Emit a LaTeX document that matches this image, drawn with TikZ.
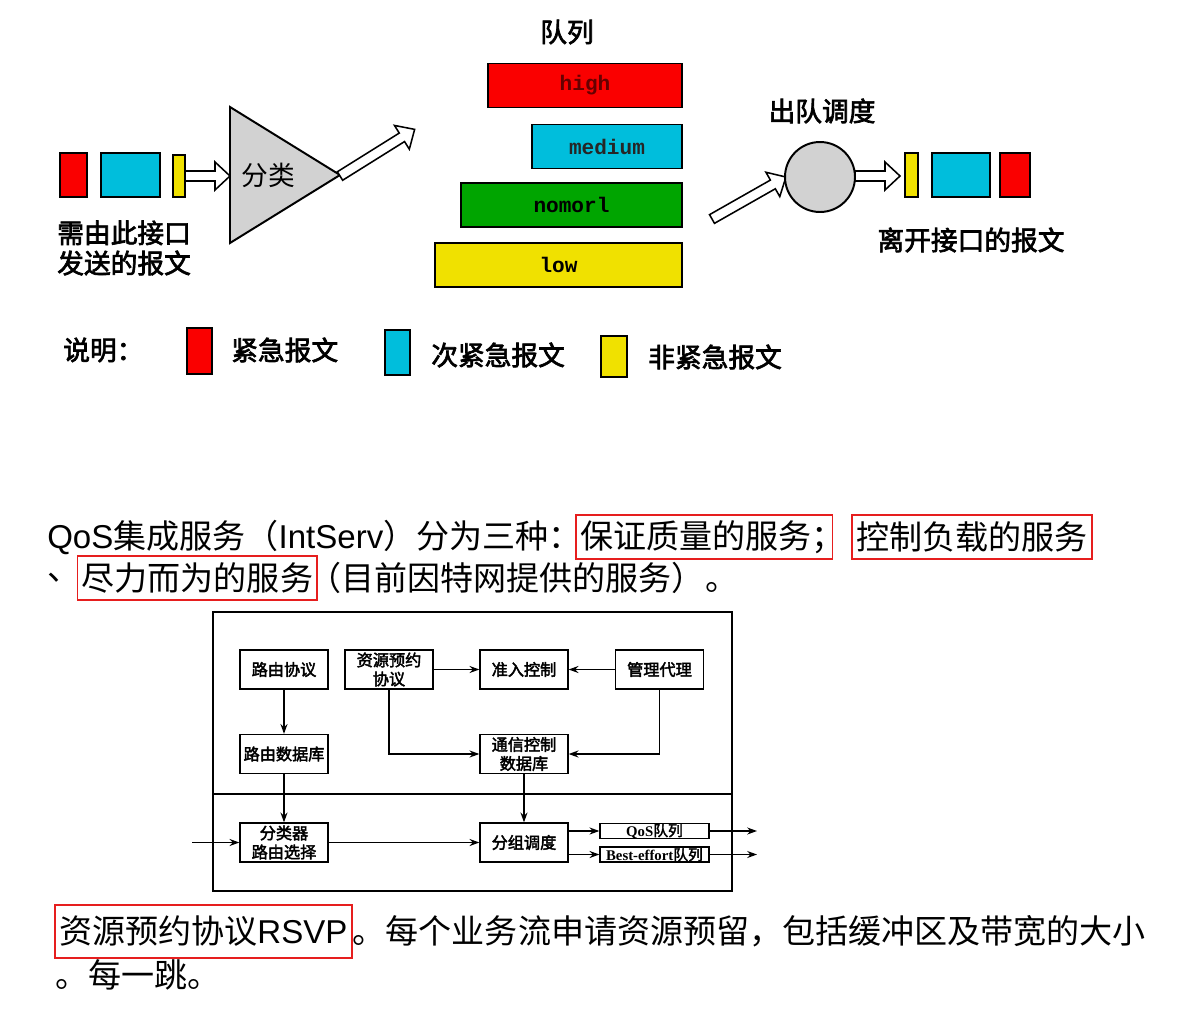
\documentclass[tikz,border=0pt]{standalone}
\usepackage{fontspec}
\setmainfont{Liberation Sans}
\newfontfamily\cjk{Noto Sans CJK SC}[AutoFakeBold=2.5]
\newfontfamily\qmono{Liberation Mono}
\newfontfamily\tnr{Liberation Serif}
\usetikzlibrary{arrows.meta,positioning}
\definecolor{pktred}{RGB}{250,0,0}
\definecolor{pktcyan}{RGB}{0,190,220}
\definecolor{pktyellow}{RGB}{240,225,0}
\definecolor{qgreen}{RGB}{0,165,0}
\definecolor{markred}{RGB}{230,30,30}
\newcommand{\upx}{0.025cm}
% hollow arrow: start, angle, length
\newcommand{\fatarrow}[3]{\draw[fatarr,shift={#1},rotate=#2] (0,-5)--(#3-15,-5)--(#3-15,-14)--(#3,0)--(#3-15,14)--(#3-15,5)--(0,5)--cycle;}

\begin{document}
\begin{tikzpicture}[x=0.025cm, y=-0.025cm,
    pkt/.style={draw=black, line width=1.4pt},
    fatarr/.style={draw=black, fill=white, line width=1.1pt},
    qbar/.style={draw=black, line width=1.4pt, minimum height=44*\upx, inner sep=0pt, font=\qmono\bfseries\fontsize{15}{15}\selectfont},
    lbl/.style={inner sep=0pt, font=\cjk\bfseries\fontsize{19}{21.5}\selectfont},
    blk/.style={draw, line width=0.9pt, minimum width=88*\upx, minimum height=39*\upx, inner sep=0pt, align=center, font=\cjk\bfseries\fontsize{11.5}{13.5}\selectfont},
    qbox/.style={draw, line width=0.9pt, minimum width=109*\upx, minimum height=15*\upx, inner sep=0pt, font=\tnr\bfseries\fontsize{10.5}{11}\selectfont},
    flow/.style={line width=0.9pt, -{Stealth[length=7pt,width=5pt]}},
    txt/.style={inner sep=0pt, font=\cjk\fontsize{23.5}{28}\selectfont},
    redframe/.style={draw=markred, line width=1.3pt, inner xsep=3pt, minimum height=44*\upx}]
  \useasboundingbox (0,0) rectangle (1186,1033);
  \fill[white] (0,0) rectangle (1186,1033);

  % packets in
  \draw[pkt, fill=pktred] (60,153) rectangle (87,197);
  \draw[pkt, fill=pktcyan] (101,153) rectangle (160,197);
  \draw[pkt, fill=pktyellow] (173,155) rectangle (185,197);
  \node[lbl, align=left, anchor=west] (src) at (57,248) {需由此接口\\发送的报文};
  \fatarrow{(185,176)}{0}{45}
  \draw[pkt, fill=gray!35] (230,107) -- (230,243) -- (340,175) -- cycle;
  \node[inner sep=0pt, font=\cjk\fontsize{19}{21}\selectfont] (sorter) at (268,175) {分类};
  \fatarrow{(340,176)}{32}{88}

  % queues
  \node[lbl] (qtitle) at (567,32) {队列};
  \node[qbar, fill=pktred, minimum width=194*\upx, text=red!40!black] (high) at (585,85.5) {high};
  \node[qbar, fill=pktcyan, minimum width=150*\upx, text=black!85] (medium) at (607,146.5) {medium};
  \node[qbar, fill=qgreen, minimum width=221*\upx] (nomorl) at (571.5,205) {nomorl};
  \node[qbar, fill=pktyellow, minimum width=247*\upx] (low) at (558.5,265) {low};

  % dequeue
  \fatarrow{(712,219)}{29.6}{85}
  \node[lbl] (dqtitle) at (822,111) {出队调度};
  \node[draw, circle, line width=1.4pt, fill=gray!35, minimum size=70*\upx] (deq) at (820,177) {};
  \fatarrow{(855,176)}{0}{45}
  \draw[pkt, fill=pktyellow] (905,153) rectangle (918,197);
  \draw[pkt, fill=pktcyan] (932,153) rectangle (990,197);
  \draw[pkt, fill=pktred] (1000,153) rectangle (1030,197);
  \node[lbl] (dst) at (971,240) {离开接口的报文};

  % legend
  \node[lbl, anchor=west] (note) at (63,350) {说明：};
  \draw[pkt, fill=pktred] (187,328) rectangle (212,374);
  \node[lbl, anchor=west] (k1) at (231,350) {紧急报文};
  \draw[pkt, fill=pktcyan] (385,330) rectangle (410,375);
  \node[lbl, anchor=west] (k2) at (431,355) {次紧急报文};
  \draw[pkt, fill=pktyellow] (601,336) rectangle (627,377);
  \node[lbl, anchor=west] (k3) at (648,357) {非紧急报文};

  % text lines
  \node[txt, anchor=west] (l1a) at (47,537) {{\rmfamily QoS}集成服务（{\rmfamily IntServ}）分为三种：\kern-0.2em};
  \node[txt, redframe, right=0pt of l1a] (l1b) {保证质量的服务；\kern-0.5em};
  \node[txt, redframe, right=0.45cm of l1b] (l1c) {控制负载的服务};
  \node[txt, anchor=west] (l2a) at (47,578) {、};
  \node[txt, redframe, right=-0.1cm of l2a] (l2b) {尽力而为的服务};
  \node[txt, right=-0.25cm of l2b] (l2c) {（目前因特网提供的服务）。};

  % IntServ block diagram
  \draw[line width=0.9pt] (213,612) rectangle (732,891);
  \draw[line width=0.9pt] (213,794) -- (732,794);
  \node[blk] (rp) at (284,669.5) {路由协议};
  \node[blk] (rsvp) at (389,669.5) {资源预约\\协议};
  \node[blk] (adm) at (524,669.5) {准入控制};
  \node[blk] (mgmt) at (659.5,669.5) {管理代理};
  \node[blk] (rdb) at (284,754) {路由数据库};
  \node[blk] (tcdb) at (524,754) {通信控制\\数据库};
  \node[blk] (clsr) at (284,842.5) {分类器\\路由选择};
  \node[blk] (sched) at (524,842.5) {分组调度};
  \node[qbox] (qos) at (654.5,831) {QoS{\cjk 队列}};
  \node[qbox] (be) at (654.5,854.5) {Best-effort{\cjk 队列}};
  \coordinate (in) at (192,842.5);
  \coordinate (out1) at (757,831);
  \coordinate (out2) at (757,854.5);
  \draw[flow] (rp) -- (rdb);
  \draw[flow] (rdb) -- (clsr);
  \draw[flow] (rsvp) -- (adm);
  \draw[flow] (mgmt) -- (adm);
  \draw[flow] (rsvp.south) |- (tcdb.west);
  \draw[flow] (mgmt.south) |- (tcdb.east);
  \draw[flow] (tcdb) -- (sched);
  \draw[flow] (in) -- (clsr);
  \draw[flow] (clsr) -- (sched);
  \draw[flow] (sched.east |- qos.west) -- (qos.west);
  \draw[flow] (sched.east |- be.west) -- (be.west);
  \draw[flow] (qos) -- (out1);
  \draw[flow] (be) -- (out2);

  % RSVP lines
  \node[txt, redframe, minimum height=53*\upx, anchor=west] (l3a) at (54,931.5) {资源预约协议{\rmfamily RSVP}};
  \node[txt, right=0pt of l3a] (l3b) {。每个业务流申请资源预留，包括缓冲区及带宽的大小};
  \node[txt, anchor=west] (l4) at (55,975) {。每一跳。};
\end{tikzpicture}
\end{document}
